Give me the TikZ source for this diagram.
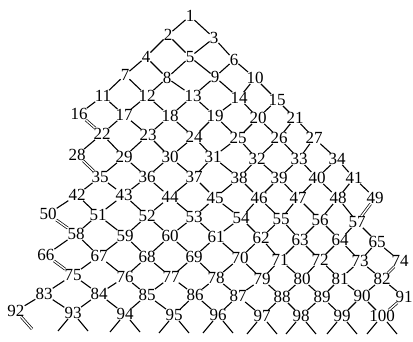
\documentclass[tikz,border=0pt]{standalone}
\usepackage{fontspec}
\setmainfont{Liberation Serif}
\begin{document}
\begin{tikzpicture}[x=1pt,y=-1pt,
  num/.style={inner sep=0pt, font=\fontsize{17}{17}\selectfont},
  lk/.style={line width=1.1pt},
  dbl/.style={double, line width=0.7pt, double distance=1.4pt}]
\useasboundingbox (0,0) rectangle (413,342);
\foreach \n/\x/\y in {
 1/190/16,
 2/168/35, 3/214/38,
 4/146/57, 5/190/57, 6/234/60,
 7/125/75, 8/167/78, 9/215/77, 10/255/78,
 11/103/96, 12/147/96, 13/193/96, 14/239/98, 15/277/100,
 16/79/114, 17/124/115, 18/170/116, 19/215/116, 20/258/118, 21/295/118,
 22/102/134, 23/148/135, 24/194/137, 25/238/138, 26/279/138, 27/314/138,
 28/77/155, 29/124/157, 30/170/157, 31/213/157, 32/257/159, 33/299/159, 34/337/159,
 35/100/177, 36/147/177, 37/194/177, 38/239/178, 39/279/178, 40/317/178, 41/354/178,
 42/77/195, 43/124/195, 44/170/197, 45/215/198, 46/259/198, 47/298/198, 48/338/198, 49/375/198,
 50/48/214, 51/98/215, 52/147/216, 53/194/217, 54/241/218, 55/281/219, 56/320/220, 57/357/222,
 58/76/234, 59/125/236, 60/170/236, 61/216/237, 62/261/238, 63/300/240, 64/340/240, 65/377/242,
 66/46/255, 67/99/256, 68/147/257, 69/194/257, 70/240/258, 71/280/260, 72/320/260, 73/360/261, 74/400/261,
 75/73/275, 76/125/277, 77/171/277, 78/216/278, 79/262/279, 80/302/279, 81/340/279, 82/382/279,
 83/44/294, 84/99/294, 85/147/295, 86/195/295, 87/238/296, 88/282/297, 89/322/297, 90/362/296, 91/404/297,
 92/16/311, 93/73/313, 94/125/314, 95/174/315, 96/218/315, 97/262/316, 98/301/316, 99/342/316, 100/382/316}
  \node[num] (n\n) at (\x,\y) {\n};
\foreach \a/\b in {
 1/2, 1/3,
 2/4, 2/5, 3/5, 3/6,
 4/7, 4/8, 5/8, 5/9, 6/9, 6/10,
 7/11, 7/12, 8/12, 8/13, 9/13, 9/14, 10/14, 10/15,
 11/16, 11/17, 12/17, 12/18, 13/18, 13/19, 14/19, 14/20, 15/20, 15/21,
 17/22, 17/23, 18/23, 18/24, 19/24, 19/25, 20/25, 20/26, 21/26, 21/27,
 22/28, 22/29, 23/29, 23/30, 24/30, 24/31, 25/31, 25/32, 26/32, 26/33, 27/33, 27/34,
 29/35, 29/36, 30/36, 30/37, 31/37, 31/38, 32/38, 32/39, 33/39, 33/40, 34/40, 34/41,
 35/42, 35/43, 36/43, 36/44, 37/44, 37/45, 38/45, 38/46, 39/46, 39/47, 40/47, 40/48, 41/48, 41/49,
 42/50, 42/51, 43/51, 43/52, 44/52, 44/53, 45/53, 45/54, 46/54, 46/55, 47/55, 47/56, 48/56, 48/57,
 51/58, 51/59, 52/59, 52/60, 53/60, 53/61, 54/61, 54/62, 55/62, 55/63, 56/63, 56/64, 57/64, 57/65,
 58/66, 58/67, 59/67, 59/68, 60/68, 60/69, 61/69, 61/70, 62/70, 62/71, 63/71, 63/72, 64/72, 64/73, 65/73, 65/74,
 67/75, 67/76, 68/76, 68/77, 69/77, 69/78, 70/78, 70/79, 71/79, 71/80, 72/80, 72/81, 73/81, 73/82,
 75/83, 75/84, 76/84, 76/85, 77/85, 77/86, 78/86, 78/87, 79/87, 79/88, 80/88, 80/89, 81/89, 81/90, 82/90, 82/91,
 83/92, 83/93, 84/93, 84/94, 85/94, 85/95, 86/95, 86/96, 87/96, 87/97, 88/97, 88/98, 89/98, 89/99, 90/99, 90/100}
  \draw[lk] (n\a) -- (n\b);
\foreach \a/\b in {16/22, 28/35, 49/57, 50/58, 66/75, 74/82, 91/100}
  \draw[dbl] (n\a) -- (n\b);
\foreach \n in {93,...,100} {
  \path (n\n.center) ++(-15,18) coordinate (bl\n);
  \path (n\n.center) ++(15,18) coordinate (br\n);
  \draw[lk] (n\n) -- (bl\n);
  \draw[lk] (n\n) -- (br\n);
}
\path (n92.center) ++(16,18) coordinate (br92);
\draw[dbl] (n92) -- (br92);
\end{tikzpicture}
\end{document}
